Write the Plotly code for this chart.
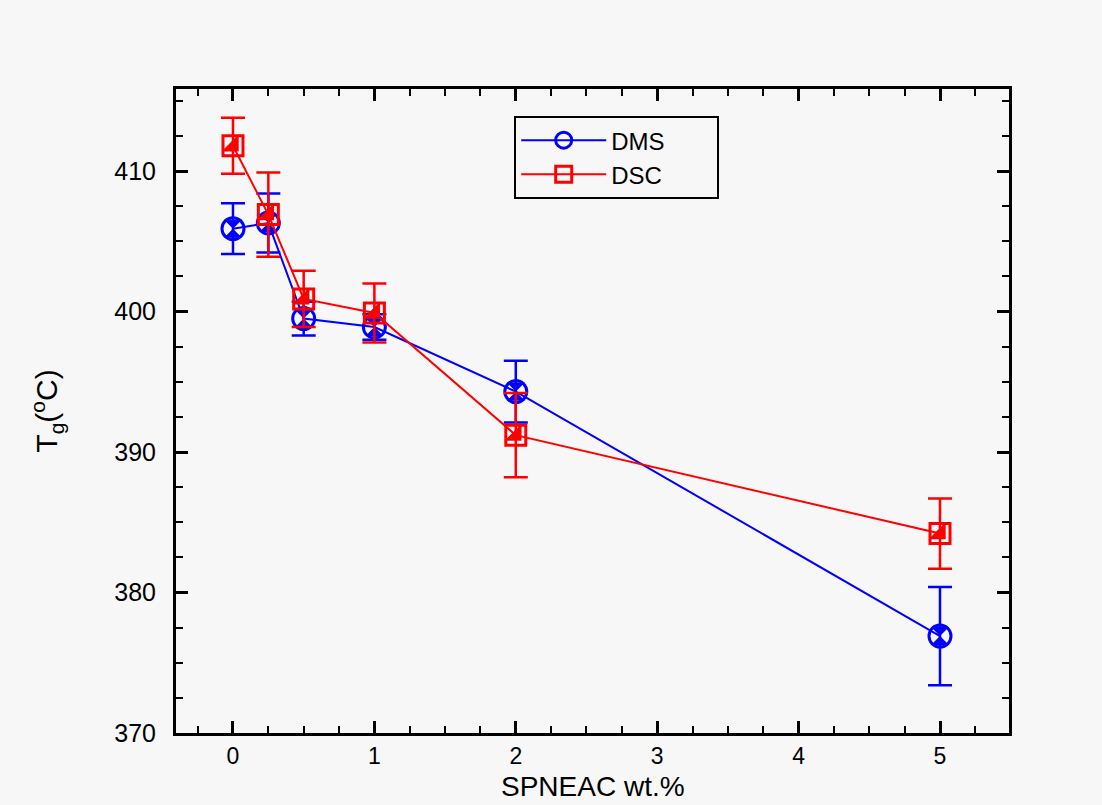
import plotly.graph_objects as go

x_vals = [0, 0.25, 0.5, 1, 2, 5]
dms = [405.9, 406.3, 399.5, 398.9, 394.3, 376.9]
dms_err = [1.8, 2.1, 1.2, 0.9, 2.2, 3.5]
dsc = [411.8, 406.9, 400.9, 399.9, 391.2, 384.2]
dsc_err = [2.0, 3.0, 2.0, 2.1, 3.0, 2.5]
series_names = ["DMS", "DSC"]
x_title = "SPNEAC wt.%"
y_title = "T<sub>g</sub>(<sup>o</sup>C)"

BLUE = "#0000ff"
RED = "#ff0000"
BG = "#f7f7f7"
FONT = "Liberation Sans"
PAD = "\u00a0" * 7

fig = go.Figure()

fig.add_trace(go.Scatter(
    x=x_vals, y=dms, name=series_names[0] + PAD, mode="lines+markers",
    line=dict(color=BLUE, width=2),
    marker=dict(symbol="circle-open", size=22, color=BLUE, line=dict(width=3, color=BLUE)),
    error_y=dict(type="data", array=dms_err, visible=True, color=BLUE, thickness=2.5, width=12),
))
fig.add_trace(go.Scatter(
    x=x_vals, y=dms, mode="markers", showlegend=False, hoverinfo="skip",
    marker=dict(symbol="hourglass", size=18, color=BLUE, line=dict(width=0)),
))
fig.add_trace(go.Scatter(
    x=x_vals, y=dsc, name=series_names[1] + PAD, mode="lines+markers",
    line=dict(color=RED, width=2),
    marker=dict(symbol="square-open", size=20, color=RED, line=dict(width=3, color=RED)),
    error_y=dict(type="data", array=dsc_err, visible=True, color=RED, thickness=2.5, width=12),
))
fig.add_trace(go.Scatter(
    x=x_vals, y=dsc, mode="markers", showlegend=False, hoverinfo="skip",
    marker=dict(symbol="triangle-se", size=19, color=RED, line=dict(width=0)),
))

axis_common = dict(
    showline=True, linecolor="black", linewidth=3, mirror="ticks",
    ticks="inside", tickcolor="black", tickwidth=3, ticklen=12,
    showgrid=False, zeroline=False, automargin=False,
)

fig.update_xaxes(
    **axis_common,
    tickfont=dict(family=FONT, size=23, color="black"),
    range=[-0.403, 5.488], tickvals=[0, 1, 2, 3, 4, 5],
    ticklabelstandoff=0,
    minor=dict(dtick=0.25, tick0=0, ticks="inside", ticklen=7, tickwidth=2, tickcolor="black", showgrid=False),
)
fig.update_yaxes(
    **axis_common,
    tickfont=dict(family=FONT, size=25, color="black"),
    range=[370, 415.84], tickvals=[370, 380, 390, 400, 410],
    ticklabelstandoff=12,
    minor=dict(dtick=2.5, tick0=370, ticks="inside", ticklen=7, tickwidth=2, tickcolor="black", showgrid=False),
    title=dict(text=y_title, font=dict(family=FONT, size=30, color="black"), standoff=48),
)

fig.add_annotation(
    text=x_title, xref="paper", yref="paper", x=0.5, y=0,
    xanchor="center", yanchor="bottom", yshift=-71, showarrow=False,
    font=dict(family=FONT, size=28, color="black"),
)

fig.update_layout(
    width=1102, height=805,
    margin=dict(l=176, r=93, t=89, b=72),
    paper_bgcolor=BG, plot_bgcolor=BG,
    legend=dict(
        x=0.406, y=0.958, xanchor="left", yanchor="top",
        bgcolor=BG, bordercolor="black", borderwidth=2,
        font=dict(family=FONT, size=24, color="black"),
        itemwidth=85, tracegroupgap=0,
    ),
)

fig.write_html("out.html")
